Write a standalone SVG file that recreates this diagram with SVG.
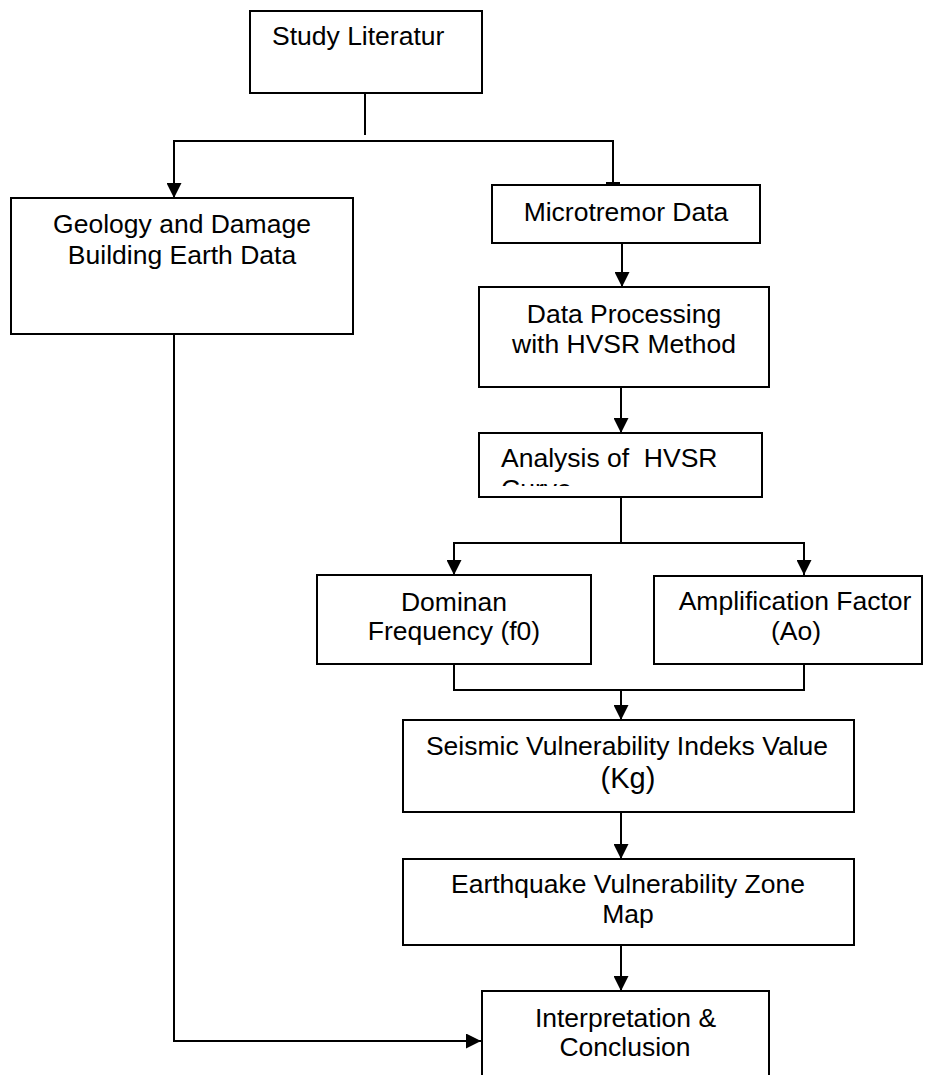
<svg xmlns="http://www.w3.org/2000/svg" width="929" height="1075" viewBox="0 0 929 1075">
<style>
.box{fill:#fff;stroke:#000;stroke-width:2}
.t{font-family:"Liberation Sans",Arial,sans-serif;font-size:26.5px;fill:#000}
.c{text-anchor:middle}
.ln{fill:none;stroke:#000;stroke-width:2}
</style>
<defs>
<marker id="arr" viewBox="0 0 15 15" refX="15" refY="7.5" markerWidth="15" markerHeight="15" markerUnits="userSpaceOnUse" orient="auto">
<path d="M0,0 L15,7.5 L0,15 Z" fill="#000"/>
</marker>
<marker id="tee" viewBox="0 0 4 14" refX="2" refY="7" markerWidth="4" markerHeight="14" markerUnits="userSpaceOnUse" orient="auto">
<rect x="0" y="0" width="3" height="14" fill="#000"/>
</marker>
<clipPath id="clipAnalysis"><rect x="480" y="434" width="280" height="52"/></clipPath>
</defs>
<rect width="929" height="1075" fill="#fff"/>

<g id="connectors">
<line class="ln" x1="365" y1="93" x2="365" y2="135"/>
<polyline class="ln" points="613,184 613,141 174,141 174,198" marker-end="url(#arr)"/>
<line x1="613" y1="141" x2="613" y2="184" class="ln" marker-end="url(#tee)"/>
<line class="ln" x1="622" y1="243" x2="622" y2="287" marker-end="url(#arr)"/>
<line class="ln" x1="621" y1="387" x2="621" y2="433" marker-end="url(#arr)"/>
<line class="ln" x1="621" y1="497" x2="621" y2="543"/>
<polyline class="ln" points="454,575 454,543 804,543 804,575"/>
<line class="ln" x1="454" y1="543" x2="454" y2="575" marker-end="url(#arr)"/>
<line class="ln" x1="804" y1="543" x2="804" y2="575" marker-end="url(#arr)"/>
<polyline class="ln" points="454,664 454,690 804,690 804,664"/>
<line class="ln" x1="621" y1="690" x2="621" y2="720" marker-end="url(#arr)"/>
<line class="ln" x1="621" y1="812" x2="621" y2="859" marker-end="url(#arr)"/>
<line class="ln" x1="621" y1="945" x2="621" y2="991" marker-end="url(#arr)"/>
<polyline class="ln" points="174,334 174,1041 481,1041" marker-end="url(#arr)"/>
</g>

<g id="study-literatur">
<rect class="box" x="250" y="11" width="232" height="82"/>
<text class="t" x="272" y="45">Study Literatur</text>
</g>

<g id="geology">
<rect class="box" x="11" y="198" width="342" height="136"/>
<text class="t c" x="182" y="233">Geology and Damage</text>
<text class="t c" x="182" y="264">Building Earth Data</text>
</g>

<g id="microtremor">
<rect class="box" x="492" y="185" width="268" height="58"/>
<text class="t c" x="626" y="221">Microtremor Data</text>
</g>

<g id="data-processing">
<rect class="box" x="479" y="287" width="290" height="100"/>
<text class="t c" x="624" y="323">Data Processing</text>
<text class="t c" x="624" y="353">with HVSR Method</text>
</g>

<g id="analysis">
<rect class="box" x="479" y="433" width="283" height="64"/>
<g clip-path="url(#clipAnalysis)">
<text class="t" x="501" y="467" style="white-space:pre">Analysis of  HVSR</text>
<text class="t" x="501" y="498">Curve</text>
</g>
</g>

<g id="dominan">
<rect class="box" x="317" y="575" width="274" height="89"/>
<text class="t c" x="454" y="611">Dominan</text>
<text class="t c" x="454" y="640">Frequency (f0)</text>
</g>

<g id="amplification">
<rect class="box" x="654" y="576" width="268" height="88"/>
<text class="t c" x="795" y="610">Amplification Factor</text>
<text class="t c" x="796" y="640">(Ao)</text>
</g>

<g id="seismic">
<rect class="box" x="403" y="720" width="451" height="92"/>
<text class="t c" x="627" y="755">Seismic Vulnerability Indeks Value</text>
<text class="t c" x="628" y="788" style="font-size:29px">(Kg)</text>
</g>

<g id="earthquake">
<rect class="box" x="403" y="859" width="451" height="86"/>
<text class="t c" x="628" y="893">Earthquake Vulnerability Zone</text>
<text class="t c" x="628" y="923">Map</text>
</g>

<g id="interpretation">
<rect class="box" x="482" y="991" width="287" height="120"/>
<text class="t c" x="625.5" y="1027">Interpretation &amp;</text>
<text class="t c" x="625" y="1056">Conclusion</text>
</g>
</svg>
